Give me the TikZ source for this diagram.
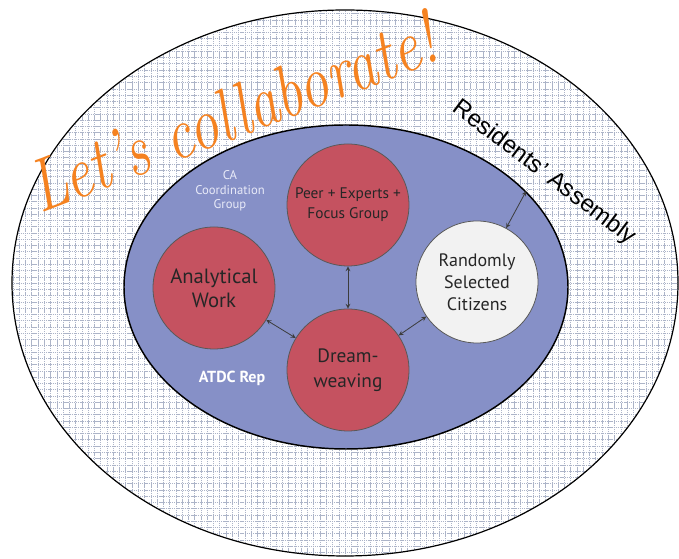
\documentclass[tikz,border=0pt]{standalone}
\usepackage{fontspec}
\usepackage{tikz}
\usetikzlibrary{shapes.geometric}
\newfontfamily\ptsans{PT Sans}
\newfontfamily\arialfont{Liberation Sans}
\definecolor{bluec}{RGB}{134,144,199}
\definecolor{redc}{RGB}{197,82,96}
\definecolor{greyc}{RGB}{242,242,242}
\definecolor{orangec}{RGB}{245,130,32}
\definecolor{lavc}{RGB}{232,234,248}
\definecolor{gridc}{RGB}{172,180,200}
\definecolor{arrowc}{RGB}{60,60,60}
\begin{document}
\begin{tikzpicture}[x=0.75pt, y=0.75pt, node distance={123.75pt}, thick,
  main/.style = {draw=black!65, line width=0.6pt, circle, fill=redc, minimum size=91.5pt, inner sep=0pt, align=center, text=black!85},
  link/.style = {<->, >=stealth, draw=arrowc, line width=0.6pt},
  gridline/.style = {draw=gridc, line width=0.3pt, dash pattern=on 1pt off 0.6pt, step=4.7pt}]
\useasboundingbox (0,0) rectangle (679,559);
\clip (0,0) rectangle (679,559);
\node[draw, ellipse, line width=0.9pt, fill=white, minimum width=499.5pt, minimum height=409.5pt,
  path picture={\draw[gridline] (path picture bounding box.south west) grid (path picture bounding box.north east);}] (assembly) at (345,276) {};
\node[draw, ellipse, line width=1.1pt, fill=bluec, minimum width=333pt, minimum height=243pt] (coord) at (346,272) {};
\node[main, font=\ptsans\fontsize{14.5}{18.75}\selectfont] (dream) at (348,189) {Dream-\\weaving};
\node[main, font=\ptsans\fontsize{11.5}{15}\selectfont] (peer) [above of=dream] {Peer + Experts +\\Focus Group};
\node[main, font=\ptsans\fontsize{15.5}{18}\selectfont] (aw) at (214,271) {Analytical\\Work};
\node[main, fill=greyc, font=\ptsans\fontsize{13.5}{16.5}\selectfont] (rand) at (477,277) {Randomly\\Selected\\Citizens};
\node[align=center, text=lavc, font=\ptsans\fontsize{9.5}{11}\selectfont] (cagroup) at (230,368) {CA\\Coordination\\Group};
\node[text=white, font=\ptsans\bfseries\fontsize{12}{14}\selectfont] (rep) at (232,181) {ATDC Rep};
\node[rotate=-37, font=\arialfont\fontsize{18}{20}\selectfont] (ratext) at (544,386) {Residents’ Assembly};
\node[rotate=21, text=orangec] (slogan) at (232,447) {\scalebox{0.8}[1]{\fontsize{56}{60}\selectfont\itshape Let’s collaborate!}};
\draw[link] (peer) -- (dream);
\draw[link] (aw) -- (dream);
\draw[link] (dream) -- (rand);
\draw[link] (coord.28) -- (rand);
\end{tikzpicture}
\end{document}
